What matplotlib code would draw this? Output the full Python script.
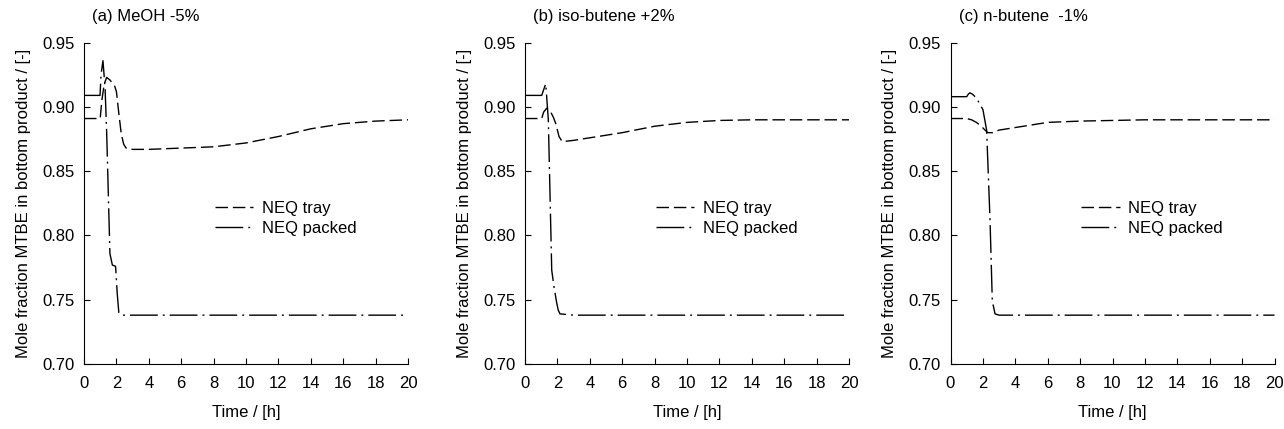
import numpy as np
import matplotlib
matplotlib.use("Agg")
import matplotlib.pyplot as plt

plt.rcParams['font.family'] = ['Liberation Sans', 'DejaVu Sans']
plt.rcParams['font.size'] = 12

# time [h] and mole fraction MTBE
# (a) MeOH -5%
ta_tray = [0, 1.0, 1.1, 1.25, 1.4, 1.6, 1.9, 2.0, 2.15, 2.3, 2.45, 2.6, 3, 4, 6, 8, 10, 12, 14, 16, 18, 20]
ya_tray = [0.891, 0.891, 0.905, 0.918, 0.923, 0.921, 0.916, 0.912, 0.895, 0.879, 0.871, 0.868, 0.867, 0.867,
           0.868, 0.869, 0.872, 0.877, 0.883, 0.887, 0.889, 0.890]
ta_pack = [0, 0.99, 1.05, 1.17, 1.3, 1.4, 1.6, 1.7, 1.75, 1.95, 2.05, 2.15, 2.3, 3, 20]
ya_pack = [0.909, 0.909, 0.925, 0.936, 0.915, 0.88, 0.786, 0.780, 0.777, 0.776, 0.755, 0.740, 0.738, 0.738, 0.738]

# (b) iso-butene +2%
tb_tray = [0, 1.03, 1.15, 1.34, 1.55, 1.75, 1.9, 2.1, 2.3, 3, 4, 6, 8, 10, 12, 14, 16, 18, 20]
yb_tray = [0.891, 0.891, 0.896, 0.899, 0.897, 0.892, 0.887, 0.877, 0.873, 0.874, 0.876, 0.880, 0.885,
           0.888, 0.8895, 0.890, 0.890, 0.890, 0.890]
tb_pack = [0, 1.03, 1.28, 1.44, 1.65, 1.79, 1.95, 2.05, 2.16, 3, 20]
yb_pack = [0.909, 0.909, 0.918, 0.890, 0.773, 0.760, 0.748, 0.742, 0.739, 0.738, 0.738]

# (c) n-butene -1%
tc_tray = [0, 1.0, 1.3, 1.6, 1.9, 2.13, 2.3, 2.6, 3, 4, 6, 8, 10, 12, 14, 16, 18, 20]
yc_tray = [0.891, 0.891, 0.890, 0.888, 0.885, 0.882, 0.880, 0.880, 0.882, 0.884, 0.888, 0.889, 0.8895,
           0.890, 0.890, 0.890, 0.890, 0.890]
tc_pack = [0, 1.0, 1.1, 1.2, 1.35, 1.6, 2.0, 2.23, 2.44, 2.58, 2.75, 3, 20]
yc_pack = [0.908, 0.908, 0.910, 0.911, 0.910, 0.907, 0.898, 0.882, 0.812, 0.749, 0.739, 0.738, 0.738]

titles = ["(a) MeOH -5%", "(b) iso-butene +2%", "(c) n-butene  -1%"]
xticks = np.arange(0, 21, 2)
yticks = [0.70, 0.75, 0.80, 0.85, 0.90, 0.95]

data = [(ta_tray, ya_tray, ta_pack, ya_pack),
        (tb_tray, yb_tray, tb_pack, yb_pack),
        (tc_tray, yc_tray, tc_pack, yc_pack)]

fig = plt.figure(figsize=(12.84, 4.29), dpi=100)
lefts = [84 / 1284, 525 / 1284, 950.5 / 1284]
for k in range(3):
    ax = fig.add_axes([lefts[k], 65 / 429, 324 / 1284, 321.3 / 429])
    t1, y1, t2, y2 = data[k]
    ax.plot(t1, y1, color='black', lw=1.0, linestyle=(0, (9, 3.5)), label='NEQ tray')
    ax.plot(t2, y2, color='black', lw=1.0, linestyle=(0, (20, 3.6, 1.4, 3.6)), label='NEQ packed')
    ax.set_xlim(0, 20)
    ax.set_ylim(0.70, 0.95)
    ax.set_xticks(xticks)
    ax.set_yticks(yticks)
    ax.set_yticklabels(["%.2f" % v for v in yticks])
    ax.spines['top'].set_visible(False)
    ax.spines['right'].set_visible(False)
    ax.tick_params(axis='both', direction='in', length=4, width=0.8)
    ax.tick_params(axis='x', pad=8.5)
    ax.tick_params(axis='y', pad=7)
    ax.set_xlabel("Time / [h]", labelpad=10)
    ax.set_ylabel("Mole fraction MTBE in bottom product / [-]", labelpad=8)
    ax.text(0.025, 1.067, titles[k], transform=ax.transAxes, va='baseline', ha='left')
    ax.legend(loc='center left', bbox_to_anchor=(0.404, 0.452), frameon=False,
              borderpad=0, borderaxespad=0, handlelength=2.3, handletextpad=0.5,
              labelspacing=0.3)

fig.savefig("out.png", dpi=100)
